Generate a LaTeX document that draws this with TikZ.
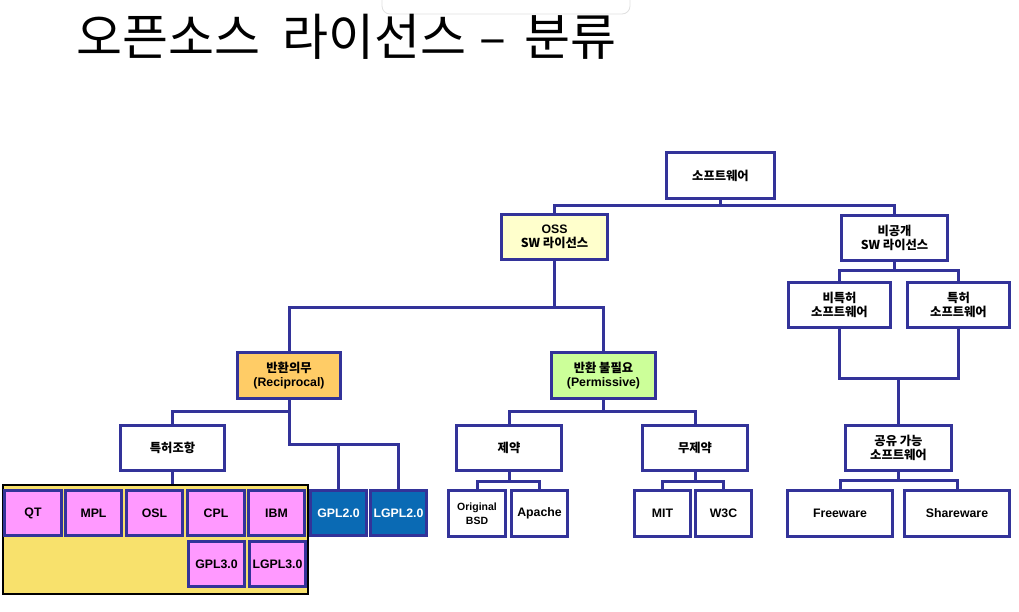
\documentclass[tikz,border=0pt]{standalone}
\usepackage{fontspec}
\setmainfont{Liberation Sans}
\newfontfamily\kr{Noto Sans CJK KR}
\definecolor{bord}{HTML}{333399}
\definecolor{lyel}{HTML}{FFFFCC}
\definecolor{orng}{HTML}{FFCC66}
\definecolor{lgrn}{HTML}{CCFF99}
\definecolor{pnk}{HTML}{FF99FF}
\definecolor{yel}{HTML}{F8E16C}
\definecolor{gblue}{HTML}{0A6AB4}
\newcommand\bx[7]{%
  \pgfmathsetmacro\bxw{#4-#2-3}%
  \pgfmathsetmacro\bxh{#5-#3-3}%
  \pgfmathsetmacro\bxx{(#2+#4)/2}%
  \pgfmathsetmacro\bxy{(#3+#5)/2}%
  \node[box,#6,minimum width=\bxw pt,minimum height=\bxh pt] (#1) at (\bxx,\bxy) {#7};}
\begin{document}
\begin{tikzpicture}[x=1pt,y=-1pt,
  box/.style={draw=bord,line width=3pt,fill=white,inner sep=0pt,align=center,
    font=\bfseries\fontsize{12.3}{14.5}\selectfont},
  ttl/.style={anchor=base west,inner sep=0pt,font=\kr\fontsize{50}{52}\selectfont},
  conn/.style={draw=bord,line width=3pt}]
\useasboundingbox (0,0) rectangle (1019,611);
\fill[white] (0,0) rectangle (1019,611);
% popup remnant
\draw[black!12,line width=0.8pt,rounded corners=8pt] (382,-12) rectangle (630,14);
% title
\node[ttl] (t1) at (76,55) {오픈소스};
\node[ttl] (t2) at (282,55) {라이선스};
\node[ttl] (t3) at (479,55) {–};
\node[ttl] (t4) at (524,55) {분류};
% yellow area
\node[draw=black,line width=1.5pt,fill=yel,minimum width=305pt,minimum height=109pt,inner sep=0pt] (yarea) at (155.5,539.5) {};
% boxes
\bx{sw}{665}{151}{776}{200}{}{\kr 소프트웨어}
\bx{oss}{500}{213}{609}{261}{fill=lyel}{OSS\\{\kr SW 라이선스}}
\bx{priv}{840}{214}{949}{262}{}{{\kr 비공개}\\{\kr SW 라이선스}}
\bx{npat}{787}{281}{892}{329}{}{{\kr 비특허}\\{\kr 소프트웨어}}
\bx{pat}{906}{281}{1011}{329}{}{{\kr 특허}\\{\kr 소프트웨어}}
\bx{share}{844}{424}{953}{472}{}{{\kr 공유 가능}\\{\kr 소프트웨어}}
\bx{free}{786}{489}{894}{538}{}{Freeware}
\bx{sharew}{903}{489}{1011}{538}{}{Shareware}
\bx{recip}{236}{351}{342}{400}{fill=orng}{{\kr 반환의무}\\(Reciprocal)}
\bx{perm}{550}{351}{657}{400}{fill=lgrn}{{\kr 반환 불필요}\\(Permissive)}
\bx{patc}{119}{424}{226}{472}{}{\kr 특허조항}
\bx{restr}{455}{424}{563}{472}{}{\kr 제약}
\bx{nores}{641}{424}{749}{472}{}{\kr 무제약}
\bx{bsd}{447}{489}{507}{538}{}{\fontsize{10.5}{12.5}\selectfont Original\\\fontsize{10.5}{12.5}\selectfont BSD}
\bx{apache}{510}{489}{569}{538}{}{Apache}
\bx{mit}{633}{489}{692}{538}{}{MIT}
\bx{wthree}{694}{489}{753}{538}{}{W3C}
\bx{qt}{3}{489}{63}{537}{fill=pnk}{QT}
\bx{mpl}{64}{489}{123}{537}{fill=pnk}{MPL}
\bx{osl}{125}{489}{184}{537}{fill=pnk}{OSL}
\bx{cpl}{186}{489}{246}{537}{fill=pnk}{CPL}
\bx{ibm}{247}{489}{306}{537}{fill=pnk}{IBM}
\bx{gplt}{187}{540}{246}{588}{fill=pnk}{GPL3.0}
\bx{lgplt}{248}{540}{307}{588}{fill=pnk}{LGPL3.0}
\bx{gpl}{309}{489}{368}{537}{fill=gblue,text=white}{GPL2.0}
\bx{lgpl}{369}{489}{428}{537}{fill=gblue,text=white}{LGPL2.0}
% junction coordinates
\coordinate (j0) at (0,205);
\coordinate (j1) at (0,270);
\coordinate (j2) at (0,307);
\coordinate (j3) at (0,378);
\coordinate (j4) at (0,480);
\coordinate (j5) at (0,411);
\coordinate (j6) at (0,444);
\coordinate (j7) at (0,481);
% connectors
\draw[conn] (sw.south) -- (sw.south |- j0) -| (oss.north);
\draw[conn] (sw.south |- j0) -| (priv.north);
\draw[conn] (priv.south) -- (priv.south |- j1) -| (npat.north);
\draw[conn] (priv.south |- j1) -| (pat.north);
\draw[conn] (npat.south) -- (npat.south |- j3) -| (pat.south);
\draw[conn] (share.north) -- (share.north |- j3);
\draw[conn] (share.south) -- (share.south |- j4) -| (free.north);
\draw[conn] (share.south |- j4) -| (sharew.north);
\draw[conn] (oss.south) -- (oss.south |- j2) -| (recip.north);
\draw[conn] (oss.south |- j2) -| (perm.north);
\draw[conn] (recip.south) -- (recip.south |- j5) -| (patc.north);
\draw[conn] (recip.south |- j5) -- (recip.south |- j6) -| (lgpl.north);
\draw[conn] (gpl.north) -- (gpl.north |- j6);
\draw[conn] (patc.south) -- (patc.south |- yarea.north);
\draw[conn] (perm.south) -- (perm.south |- j5) -| (restr.north);
\draw[conn] (perm.south |- j5) -| (nores.north);
\draw[conn] (restr.south) -- (restr.south |- j7) -| (bsd.north);
\draw[conn] (restr.south |- j7) -| (apache.north);
\draw[conn] (nores.south) -- (nores.south |- j7) -| (mit.north);
\draw[conn] (nores.south |- j7) -| (wthree.north);
\end{tikzpicture}
\end{document}
